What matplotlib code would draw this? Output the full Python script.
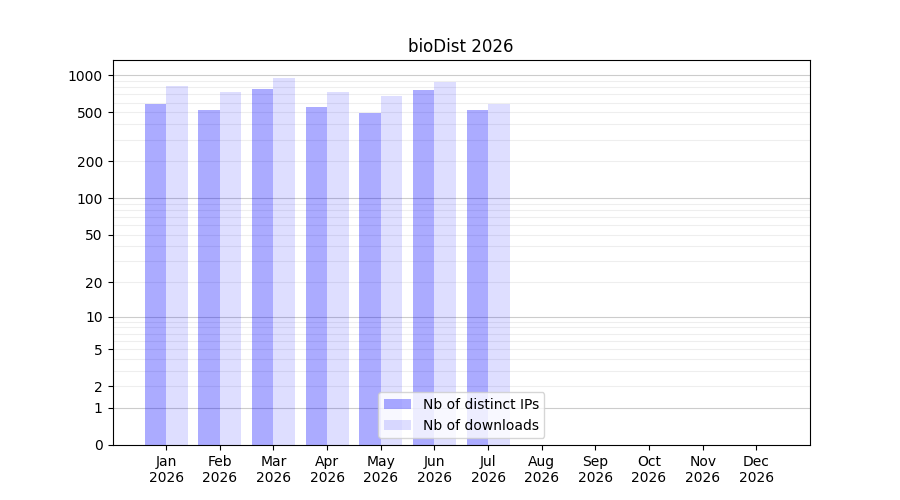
import matplotlib
matplotlib.use("Agg")
import matplotlib.pyplot as plt
import numpy as np

months = ["Jan", "Feb", "Mar", "Apr", "May", "Jun", "Jul", "Aug", "Sep", "Oct", "Nov", "Dec"]
year = "2026"
ips = [585, 524, 776, 554, 495, 761, 524]
downloads = [820, 733, 952, 733, 680, 884, 585]
yticks = [0, 1, 2, 5, 10, 20, 50, 100, 200, 500, 1000]

fig, ax = plt.subplots(figsize=(9, 5), dpi=100)
ax.set_yscale('function', functions=(lambda v: np.log10(1 + np.clip(v, 0, None)),
                                     lambda v: 10 ** v - 1))

# grid lines
for dec in [1, 10, 100]:
    for m in range(2, 10):
        ax.axhline(dec * m, color='#eeeeee', lw=0.8, zorder=0)
for v in [1, 10, 100, 1000]:
    ax.axhline(v, color='#cccccc', lw=0.8, zorder=0)

x = np.arange(len(ips))
ax.bar(x - 0.2, ips, width=0.4, color='blue', alpha=0.33, label='Nb of distinct IPs')
ax.bar(x + 0.2, downloads, width=0.4, color='blue', alpha=0.13, label='Nb of downloads')

ax.set_ylim(0, max(downloads) * 1.4)
ax.set_yticks(yticks)
ax.set_yticklabels([str(t) for t in yticks])
ax.minorticks_off()
ax.set_xlim(-1, 12)
ax.set_xticks(range(12))
ax.set_xticklabels([m + "\n" + year for m in months])
ax.set_title("bioDist " + year)
ax.legend(loc='lower center')

fig.savefig("out.png")
